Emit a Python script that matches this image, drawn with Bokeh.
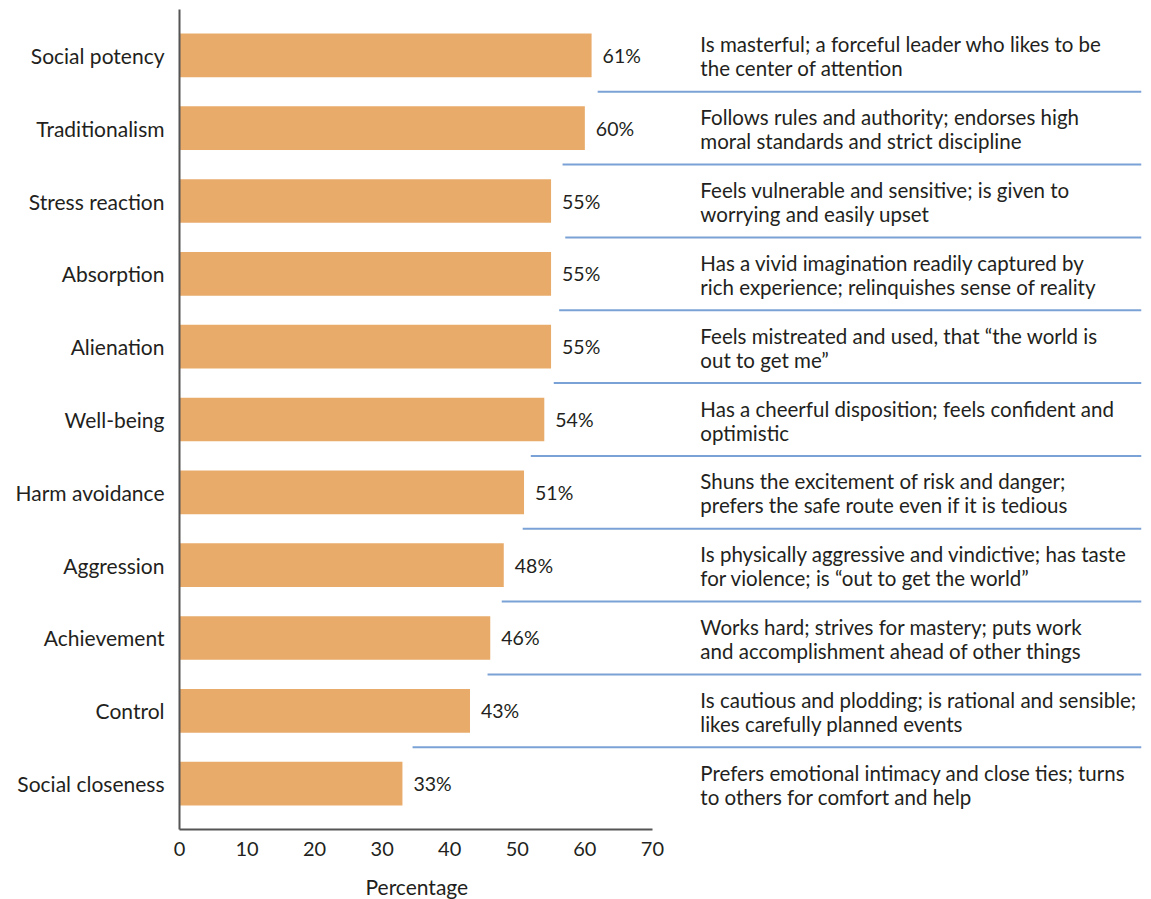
from bokeh.plotting import figure
from bokeh.models import Range1d, FixedTicker, ColumnDataSource, Title
from bokeh.core.properties import value
from bokeh.embed import file_html
from bokeh.resources import INLINE

categories = ["Social potency", "Traditionalism", "Stress reaction", "Absorption",
              "Alienation", "Well-being", "Harm avoidance", "Aggression",
              "Achievement", "Control", "Social closeness"]
percentages = [61, 60, 55, 55, 55, 54, 51, 48, 46, 43, 33]
descriptions = [
    "Is masterful; a forceful leader who likes to be\nthe center of attention",
    "Follows rules and authority; endorses high\nmoral standards and strict discipline",
    "Feels vulnerable and sensitive; is given to\nworrying and easily upset",
    "Has a vivid imagination readily captured by\nrich experience; relinquishes sense of reality",
    "Feels mistreated and used, that \u201cthe world is\nout to get me\u201d",
    "Has a cheerful disposition; feels confident and\noptimistic",
    "Shuns the excitement of risk and danger;\nprefers the safe route even if it is tedious",
    "Is physically aggressive and vindictive; has taste\nfor violence; is \u201cout to get the world\u201d",
    "Works hard; strives for mastery; puts work\nand accomplishment ahead of other things",
    "Is cautious and plodding; is rational and sensible;\nlikes carefully planned events",
    "Prefers emotional intimacy and close ties; turns\nto others for comfort and help",
]
x_ticks = [0, 10, 20, 30, 40, 50, 60, 70]
x_title = "Percentage"

# layout constants
FONT = "Lato"
TXT = "#231F20"
BAR = "#E9AB6A"
SEP = "#7BA2D6"
n = len(categories)
ypos = [n - 1 - i for i in range(n)]
sep_start = [61.9, 56.7, 57.1, 56.2, 55.4, 52.0, 50.8, 47.7, 45.6, 34.5]
sep_y = [y - 0.5 for y in ypos[:-1]]
x_max = 142.4
desc_x = 77.1

src = ColumnDataSource(dict(y=ypos, v=percentages,
                            lbl=[f"{v}%" for v in percentages], desc=descriptions))

p = figure(width=1143, height=899, x_range=Range1d(0, x_max),
           y_range=Range1d(-0.63, n - 1 + 0.63),
           output_backend="svg", toolbar_location=None,
           min_border_left=179, min_border_top=9, min_border_right=2,
           min_border_bottom=70)
p.outline_line_color = None
p.xgrid.visible = False
p.ygrid.visible = False
p.background_fill_color = "white"
p.border_fill_color = "white"

p.hbar(y="y", right="v", left=0, height=0.6, source=src, color=BAR, line_color=None)
p.text(x="v", y="y", text="lbl", source=src, x_offset=11, text_align="left",
       text_baseline="middle", text_font=value(FONT), text_font_size="19.5px",
       text_color=TXT)
p.text(x=desc_x, y="y", text="desc", source=src, text_align="left",
       text_baseline="middle", text_font=value(FONT), text_font_size="20.5px",
       text_color=TXT, text_line_height=1.0, y_offset=1)
p.segment(x0=sep_start, x1=[x_max] * len(sep_start), y0=sep_y, y1=sep_y,
          line_color=SEP, line_width=2)

p.add_layout(Title(text=x_title, align="left", offset=186, standoff=0,
                   text_font=FONT, text_font_size="21px", text_font_style="normal",
                   text_color=TXT), "below")

# x axis
xa = p.xaxis[0]
xa.ticker = FixedTicker(ticks=x_ticks)
xa.bounds = (0, 70)
xa.axis_label = " "
xa.axis_label_standoff = 0
xa.axis_label_text_font_size = "9px"
xa.major_label_text_font = FONT
xa.major_label_text_font_size = "20px"
xa.major_label_text_color = TXT
xa.major_label_standoff = 12
xa.major_tick_out = 0
xa.major_tick_in = 0
xa.major_tick_line_color = None
xa.minor_tick_line_color = None
xa.minor_tick_out = 0
xa.axis_line_color = "#555555"
xa.axis_line_width = 2

# y axis
ya = p.yaxis[0]
ya.ticker = FixedTicker(ticks=ypos)
ya.major_label_overrides = {y: c for y, c in zip(ypos, categories)}
ya.major_label_text_font = FONT
ya.major_label_text_font_size = "21px"
ya.major_label_text_color = TXT
ya.major_label_standoff = 15
ya.major_tick_out = 0
ya.major_tick_in = 0
ya.major_tick_line_color = None
ya.minor_tick_line_color = None
ya.minor_tick_out = 0
ya.axis_line_color = "#555555"
ya.axis_line_width = 2

open("out.html", "w").write(file_html(p, INLINE))
